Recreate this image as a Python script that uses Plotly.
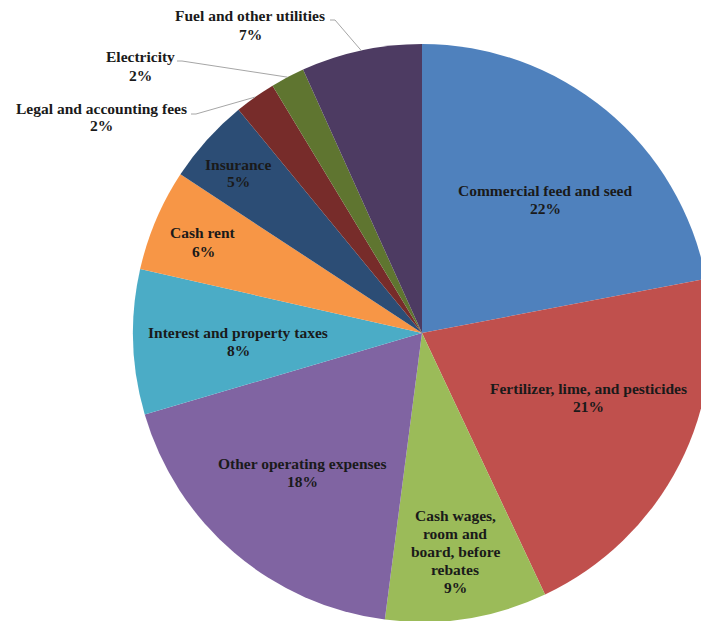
import math
import plotly.graph_objects as go

# ---- data ----
categories = [
    "Commercial feed and seed",
    "Fertilizer, lime, and pesticides",
    "Cash wages, room and board, before rebates",
    "Other operating expenses",
    "Interest and property taxes",
    "Cash rent",
    "Insurance",
    "Legal and accounting fees",
    "Electricity",
    "Fuel and other utilities",
]
shares = [22.0, 21.0, 9.05, 18.4, 8.1, 5.7, 4.8, 2.3, 1.9, 6.75]
display_labels = [
    "Commercial feed and seed",
    "Fertilizer, lime, and pesticides",
    "Cash wages,<br>room and<br>board, before<br>rebates",
    "Other operating expenses",
    "Interest and property taxes",
    "Cash rent",
    "Insurance",
    "Legal and accounting fees",
    "Electricity",
    "Fuel and other utilities",
]

# ---- styles / layout ----
colors = ["#4F81BD", "#C0504D", "#9BBB59", "#8064A2", "#4BACC6",
          "#F79646", "#2C4D75", "#772C2A", "#5F7530", "#4D3B62"]
W, H = 712, 622
CX, CY, R = 422, 333, 289
LINE_H = 18.0
FONT = dict(family="Liberation Serif", size=15.5, color="#1a1a1a", weight="bold")
# label block centres in pixels
label_pos = [(545, 199), (588, 397), (455, 551), (302, 472), (238, 341),
             (203, 242), (238, 173), (101, 117), (140, 66), (250, 25)]
# leader line starts (pixels) for outside labels, by slice index
leader_start = {7: (191, 114), 8: (177, 61), 9: (330, 20)}


def px(x, y):
    return x / W, 1 - y / H


fig = go.Figure()
fig.add_trace(go.Pie(
    labels=categories, values=shares, sort=False, direction="clockwise",
    rotation=0, textinfo="none", showlegend=False,
    marker=dict(colors=colors, line=dict(width=0)),
    domain=dict(x=[(CX - R) / W, (CX + R) / W],
                y=[max(0, 1 - (CY + R) / H), 1 - (CY - R) / H]),
))

total = sum(shares)
annotations = []
shapes = []
cum = 0.0
for i, v in enumerate(shares):
    pct = round(v / total * 100)
    lines = display_labels[i].split("<br>") + [f"{pct}%"]
    n = len(lines)
    cx, cy = label_pos[i]
    for j, line in enumerate(lines):
        x, y = px(cx, cy + (j - (n - 1) / 2) * LINE_H)
        annotations.append(dict(
            x=x, y=y, xref="paper", yref="paper", showarrow=False,
            xanchor="center", yanchor="middle", align="center",
            text=line, font=FONT,
        ))
    mid = (cum + v / 2) / total * 2 * math.pi
    cum += v
    if i in leader_start:
        sx, sy = leader_start[i]
        ex = CX + R * math.sin(mid)
        ey = CY - R * math.cos(mid)
        p0 = px(sx, sy)
        p1 = px(sx + 5, sy)
        p2 = px(ex, ey)
        shapes.append(dict(
            type="path", xref="paper", yref="paper",
            path=f"M {p0[0]},{p0[1]} L {p1[0]},{p1[1]} L {p2[0]},{p2[1]}",
            line=dict(color="#a6a6a6", width=1),
        ))

fig.update_layout(
    width=W, height=H, margin=dict(l=0, r=0, t=0, b=0),
    paper_bgcolor="white", plot_bgcolor="white",
    annotations=annotations, shapes=shapes,
)

fig.write_html(
    "out.html",
    config={"displayModeBar": False},
    post_script="document.body.style.margin='0px';document.body.style.overflow='hidden';"
                "document.documentElement.style.overflow='hidden';",
)
